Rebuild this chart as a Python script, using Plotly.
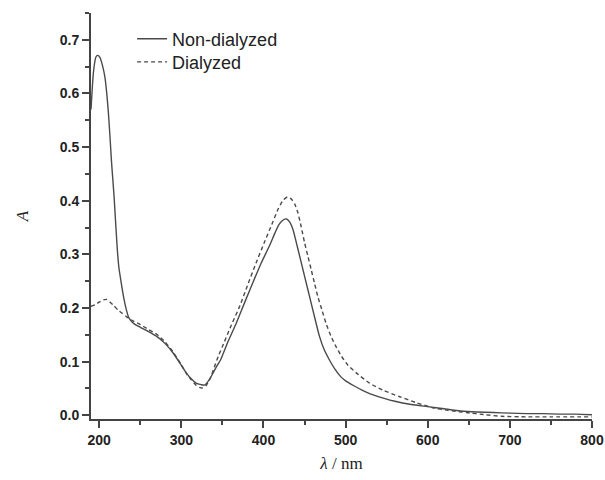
import plotly.graph_objects as go

# Non-dialyzed spectrum (wavelength nm, absorbance)
wl_non = [190, 193, 196, 198, 201, 204, 207, 209, 211, 213, 215, 218, 220, 222, 224, 227, 230, 233, 236,
          240, 245, 250, 260, 270, 280, 290, 300, 306, 312, 318, 324, 328, 333, 338, 343, 348, 357, 367,
          377, 387, 397, 407, 414, 419, 424, 428, 432, 436, 440, 444, 448, 452, 456, 460, 464, 468, 474,
          480, 487, 494, 500, 510, 520, 530, 546, 560, 580, 600, 620, 640, 660, 680, 700, 720, 740, 760,
          780, 800]
a_non = [0.57, 0.64, 0.668, 0.671, 0.667, 0.652, 0.63, 0.603, 0.568, 0.522, 0.472, 0.41, 0.359, 0.31, 0.275,
         0.245, 0.218, 0.197, 0.182, 0.174, 0.168, 0.164, 0.156, 0.147, 0.134, 0.116, 0.093, 0.079, 0.068,
         0.060, 0.057, 0.056, 0.064, 0.077, 0.091, 0.104, 0.138, 0.172, 0.21, 0.247, 0.283, 0.315, 0.34,
         0.356, 0.364, 0.366, 0.36, 0.346, 0.322, 0.297, 0.272, 0.247, 0.222, 0.197, 0.172, 0.148, 0.122,
         0.104, 0.086, 0.072, 0.064, 0.055, 0.047, 0.040, 0.032, 0.026, 0.020, 0.016, 0.012, 0.008, 0.006,
         0.005, 0.004, 0.003, 0.003, 0.002, 0.002, 0.001]

# Dialyzed spectrum
wl_dia = [190, 195, 200, 205, 209, 213, 218, 223, 228, 233, 240, 250, 260, 270, 280, 290, 300, 306, 312,
          318, 322, 326, 330, 335, 340, 345, 350, 360, 371, 381, 391, 401, 411, 418, 424, 429, 434, 438,
          442, 446, 450, 454, 458, 462, 466, 471, 476, 482, 488, 495, 503, 513, 529, 545, 565, 585, 606,
          625, 647, 670, 690, 720, 750, 800]
a_dia = [0.203, 0.206, 0.211, 0.215, 0.216, 0.211, 0.204, 0.196, 0.19, 0.184, 0.177, 0.169, 0.160, 0.151,
         0.137, 0.118, 0.094, 0.078, 0.066, 0.056, 0.052, 0.051, 0.055, 0.068, 0.089, 0.11, 0.128, 0.165,
         0.203, 0.244, 0.284, 0.322, 0.359, 0.385, 0.401, 0.407, 0.403, 0.394, 0.377, 0.351, 0.322, 0.297,
         0.272, 0.247, 0.222, 0.197, 0.172, 0.148, 0.129, 0.11, 0.093, 0.079, 0.060, 0.047, 0.035, 0.024,
         0.014, 0.009, 0.005, 0.001, -0.002, -0.003, -0.003, -0.003]

x_ticks = [200, 300, 400, 500, 600, 700, 800]
y_ticks = [0.0, 0.1, 0.2, 0.3, 0.4, 0.5, 0.6, 0.7]

line_col = "#4a4a4a"
axis_col = "#444444"
tick_font = dict(family="Liberation Sans, Arial, sans-serif", size=14, color="#222222")
legend_font = dict(family="Liberation Sans, Arial, sans-serif", size=18, color="#222222")

fig = go.Figure()
fig.add_trace(go.Scatter(x=wl_non, y=a_non, mode="lines", name="Non-dialyzed", legend="legend",
                         line=dict(color=line_col, width=1.4, shape="spline", smoothing=0.5)))
fig.add_trace(go.Scatter(x=wl_dia, y=a_dia, mode="lines", name="Dialyzed", legend="legend2",
                         line=dict(color=line_col, width=1.4, dash="4px,3px", shape="spline", smoothing=0.5)))

fig.update_layout(
    width=605, height=480,
    margin=dict(l=91, r=13, t=13, b=61),
    paper_bgcolor="white", plot_bgcolor="white",
    showlegend=True,
    legend=dict(x=0.082, y=0.936, xanchor="left", yanchor="middle",
                bgcolor="rgba(0,0,0,0)", font=legend_font),
    legend2=dict(x=0.082, y=0.879, xanchor="left", yanchor="middle",
                 bgcolor="rgba(0,0,0,0)", font=legend_font),
    xaxis=dict(range=[190, 800], tickvals=x_ticks, ticktext=[f"<b>{v}</b>" for v in x_ticks],
               automargin=False,
               showgrid=False, zeroline=False, showline=True, linecolor=axis_col, linewidth=2,
               ticks="outside", ticklen=7, tickwidth=1.5, tickcolor=axis_col, tickfont=tick_font,
               minor=dict(tickvals=[250, 350, 450, 550, 650, 750], ticks="outside", ticklen=4,
                          tickwidth=1.5, tickcolor=axis_col),
               title=dict(text="<i>λ</i> / nm", standoff=10,
                          font=dict(family="Liberation Serif, Times New Roman, serif", size=17, color="#222222"))),
    yaxis=dict(range=[-0.007, 0.75], tickvals=y_ticks, ticktext=[f"<b>{v:.1f}</b>" for v in y_ticks],
               automargin=False,
               showgrid=False, zeroline=False, showline=True, linecolor=axis_col, linewidth=2,
               ticks="outside", ticklen=7, tickwidth=1.5, tickcolor=axis_col, tickfont=tick_font,
               minor=dict(tickvals=[0.05, 0.15, 0.25, 0.35, 0.45, 0.55, 0.65, 0.75], ticks="outside",
                          ticklen=4, tickwidth=1.5, tickcolor=axis_col),
               title=dict(text="<i>A</i>", standoff=27,
                          font=dict(family="Liberation Serif, Times New Roman, serif", size=17, color="#222222"))),
)

# remove the browser's default 8px body margin so the figure sits at the page's top-left corner
fig.write_html("out.html", config={"displayModeBar": False},
               post_script="document.body.style.margin='0';document.body.style.overflow='hidden';")
